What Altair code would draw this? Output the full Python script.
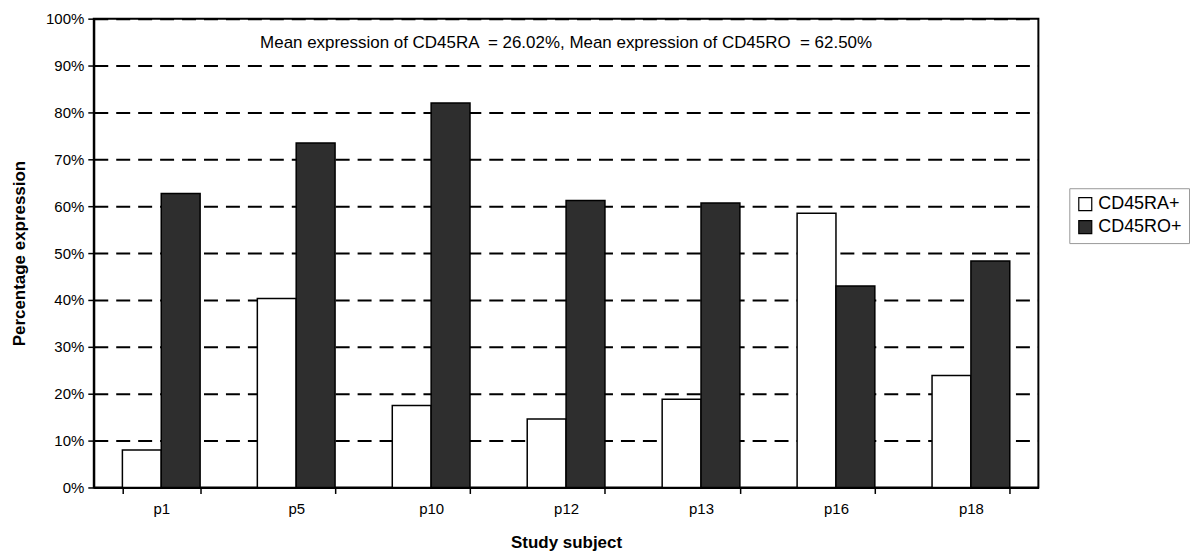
import altair as alt
import pandas as pd

subjects = ["p1", "p5", "p10", "p12", "p13", "p16", "p18"]
cd45ra = [8.0, 40.3, 17.5, 14.6, 18.8, 58.5, 23.9]
cd45ro = [62.7, 73.5, 82.0, 61.2, 60.7, 43.0, 48.3]
series = ["CD45RA+", "CD45RO+"]
y_ticks = [0, 10, 20, 30, 40, 50, 60, 70, 80, 90, 100]
annotation = "Mean expression of CD45RA \u00a0= 26.02%, Mean expression of CD45RO \u00a0= 62.50%"
x_title = "Study subject"
y_title = "Percentage expression"

rows = []
for s, a, o in zip(subjects, cd45ra, cd45ro):
    rows.append({"subject": s, "series": series[0], "value": a / 100})
    rows.append({"subject": s, "series": series[1], "value": o / 100})
df = pd.DataFrame(rows)

W, H = 947, 470
FONT = "Liberation Sans"

bars = alt.Chart(df).mark_bar(stroke="black", strokeWidth=1.5).encode(
    x=alt.X(
        "subject:N",
        sort=subjects,
        scale=alt.Scale(paddingInner=0.424, paddingOuter=0.212),
        axis=alt.Axis(
            title=x_title, labelAngle=0, tickBand="extent",
            domainColor="black", domainWidth=2, tickColor="black", tickWidth=1.5,
            tickSize=6, labelPadding=8, labelFontSize=15, labelColor="black",
            titleFontSize=17, titleFontWeight="bold", titleColor="black", titlePadding=18,
        ),
    ),
    xOffset=alt.XOffset("series:N", sort=series, scale=alt.Scale(paddingInner=0, paddingOuter=0)),
    y=alt.Y(
        "value:Q",
        scale=alt.Scale(domain=[0, 1], nice=False),
        axis=alt.Axis(
            title=y_title, values=[t / 100 for t in y_ticks], format=".0%",
            domainColor="black", domainWidth=2, tickColor="black", tickWidth=1.5,
            tickSize=6, labelPadding=4, labelFontSize=15, labelColor="black",
            titleFontSize=17, titleFontWeight="bold", titleColor="black", titlePadding=17,
            grid=True, gridColor="black", gridDash=[14, 8], gridWidth=2,
        ),
    ),
    color=alt.Color(
        "series:N",
        sort=series,
        scale=alt.Scale(domain=series, range=["white", "#2e2e2e"]),
        legend=alt.Legend(
            title=None, orient="none", legendX=978, legendY=170,
            symbolType="square", symbolSize=169, symbolStrokeColor="black",
            symbolStrokeWidth=1.2, labelFontSize=18, labelColor="black",
            rowPadding=5, padding=7, strokeColor="#999999", fillColor="white",
            labelOffset=4,
        ),
    ),
)

text = alt.Chart(pd.DataFrame({"t": [annotation]})).mark_text(
    fontSize=17, color="black", font=FONT, align="center", baseline="middle"
).encode(x=alt.value(W / 2), y=alt.value(24), text="t:N")

chart = (
    alt.layer(bars, text)
    .properties(width=W, height=H, padding={"left": 2, "top": 3, "right": 0, "bottom": 0})
    .configure(font=FONT, background="white")
    .configure_view(stroke="black", strokeWidth=2)
)

chart.save("out.html", embed_options={"renderer": "svg", "actions": False})
